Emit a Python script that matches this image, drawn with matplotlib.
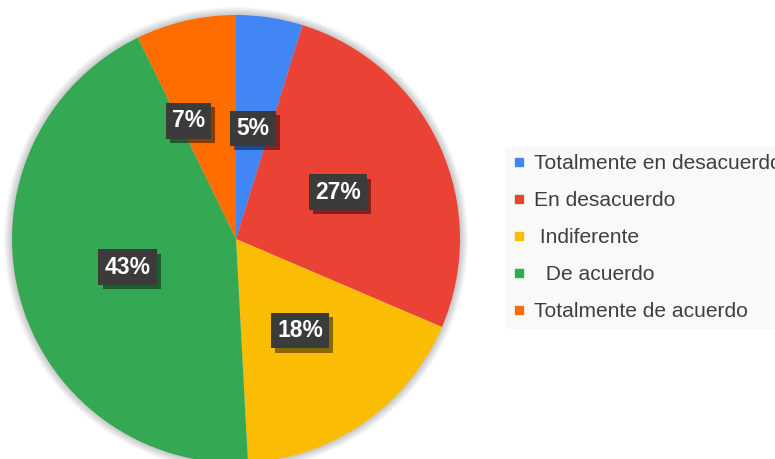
import matplotlib
matplotlib.use("Agg")
import matplotlib.pyplot as plt
import matplotlib.patheffects as pe
from matplotlib.lines import Line2D
from matplotlib.patches import Circle

categories = ["Totalmente en desacuerdo", "En desacuerdo", " Indiferente",
              "  De acuerdo", "Totalmente de acuerdo"]
values = [4.8, 26.6, 17.7, 43.6, 7.2]
pct_labels = ["5%", "27%", "18%", "43%", "7%"]
colors = ["#4285F4", "#EA4335", "#FBBC04", "#34A853", "#FF6D01"]

plt.rcParams['font.family'] = ['Liberation Sans', 'DejaVu Sans']

W, H = 775, 459
fig = plt.figure(figsize=(W / 100, H / 100), dpi=100)
cx, cy, r = 236, 239, 224
ax = fig.add_axes([(cx - r) / W, (H - cy - r) / H, 2 * r / W, 2 * r / H])
ax.set_axis_off()

# soft glow shadow around the pie
for k in range(1, 10):
    ax.add_patch(Circle((0, 0), 1 + k * 0.004, facecolor='#000000',
                        alpha=0.022, edgecolor='none', clip_on=False, zorder=0))

wedges, texts = ax.pie(values, colors=colors, startangle=90,
                       counterclock=False, labels=pct_labels, labeldistance=0.5,
                       wedgeprops=dict(linewidth=0, zorder=1),
                       textprops=dict(ha='center', va='center'))
ax.set_xlim(-1, 1)
ax.set_ylim(-1, 1)
ax.set_aspect('equal')

# small nudge for the crowded 7% label
nudges = {4: (-0.10, 0.04)}
for i, t in enumerate(texts):
    t.set_color('white')
    t.set_fontsize(16.5)
    t.set_fontweight('bold')
    t.set_zorder(5)
    if i in nudges:
        x, y = t.get_position()
        t.set_position((x + nudges[i][0], y + nudges[i][1]))
    t.set_bbox(dict(boxstyle='square,pad=0.27', fc='#3b3b3b', ec='none'))
    t.get_bbox_patch().set_path_effects([
        pe.SimplePatchShadow(offset=(3, -3), shadow_rgbFace='black', alpha=0.45),
        pe.Normal()])

handles = [Line2D([0], [0], marker='s', linestyle='none', markersize=6.2,
                  markerfacecolor=c, markeredgecolor=c) for c in colors]
leg = fig.legend(handles, categories, loc='upper left',
                 bbox_to_anchor=(505 / W, 1 - 147 / H), frameon=True,
                 fontsize=15.1, labelspacing=0.86, handlelength=0.6,
                 handletextpad=0.45, borderpad=0.35, borderaxespad=0,
                 labelcolor='#3f3f3f', fancybox=False)
leg.get_frame().set_facecolor('#f8f8f8')
leg.get_frame().set_edgecolor('none')

fig.savefig("out.png", dpi=100)
